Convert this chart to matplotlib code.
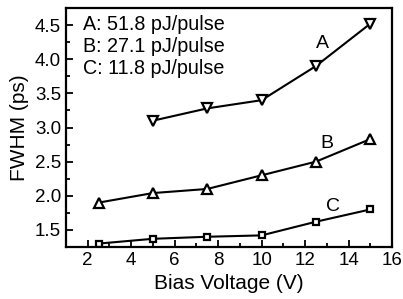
import matplotlib
matplotlib.use('Agg')
import matplotlib.pyplot as plt
from matplotlib.ticker import MultipleLocator

plt.rcParams['font.family'] = ['Liberation Sans', 'DejaVu Sans']

# data
volt_a = [5, 7.5, 10, 12.5, 15]
fwhm_a = [3.10, 3.28, 3.40, 3.90, 4.52]
volt_b = [2.5, 5, 7.5, 10, 12.5, 15]
fwhm_b = [1.90, 2.04, 2.10, 2.30, 2.50, 2.83]
volt_c = [2.5, 5, 7.5, 10, 12.5, 15]
fwhm_c = [1.30, 1.37, 1.40, 1.42, 1.62, 1.80]
legend_lines = ['A: 51.8 pJ/pulse', 'B: 27.1 pJ/pulse', 'C: 11.8 pJ/pulse']

fig = plt.figure(figsize=(4.03, 2.99), dpi=100)
ax = fig.add_axes([66/403, 1 - 247/299, (392-66)/403, (247-8)/299])

kw = dict(color='black', lw=1.5, mfc='white', mec='black', mew=1.6)
ax.plot(volt_a, fwhm_a, marker='v', ms=7.5, **kw)
ax.plot(volt_b, fwhm_b, marker='^', ms=7.5, **kw)
ax.plot(volt_c, fwhm_c, marker='s', ms=5, **kw)

ax.text(12.8, 4.23, 'A', fontsize=14, ha='center', va='center')
ax.text(13.0, 2.77, 'B', fontsize=14, ha='center', va='center')
ax.text(13.3, 1.84, 'C', fontsize=14, ha='center', va='center')

for i, s in enumerate(legend_lines):
    ax.text(0.052, 0.932 - i * 0.093, s, transform=ax.transAxes,
            fontsize=14.2, ha='left', va='center')

ax.set_xlim(1, 16)
ax.set_ylim(1.25, 4.75)
ax.xaxis.set_major_locator(MultipleLocator(2))
ax.xaxis.set_minor_locator(MultipleLocator(1))
ax.yaxis.set_major_locator(MultipleLocator(0.5))
ax.yaxis.set_minor_locator(MultipleLocator(0.25))
ax.tick_params(which='both', direction='in', top=False, right=False,
               labelsize=13.5, width=1.3)
ax.tick_params(which='major', length=5)
ax.tick_params(which='minor', length=3)
ax.yaxis.set_major_formatter(matplotlib.ticker.FormatStrFormatter('%.1f'))
for sp in ax.spines.values():
    sp.set_linewidth(1.6)

ax.set_xlabel('Bias Voltage (V)', fontsize=15, labelpad=4)
ax.set_ylabel('FWHM (ps)', fontsize=15, labelpad=4)

fig.savefig('out.png', dpi=100)
